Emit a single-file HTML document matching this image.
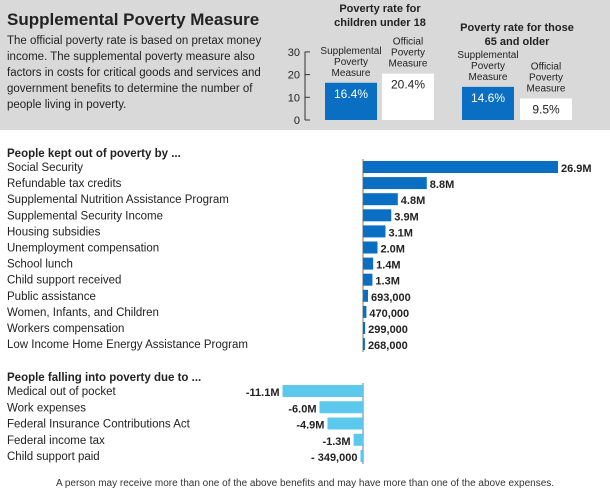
<!DOCTYPE html>
<html><head><meta charset="utf-8"><style>
body{margin:0;width:610px;height:494px;background:#fff;font-family:"Liberation Sans",sans-serif;position:relative;overflow:hidden}
svg{position:absolute;left:0;top:0}
</style></head><body>
<svg width="610" height="494">
<rect x="0" y="0" width="610" height="130" fill="#d9d9da"/>
<text x="7" y="25" font-size="17" font-weight="bold" fill="#222">Supplemental Poverty Measure</text>
<g font-size="11.5" fill="#222">
<text x="7" y="44">The official poverty rate is based on pretax money</text>
<text x="7" y="60">income. The supplemental poverty measure also</text>
<text x="7" y="76">factors in costs for critical goods and services and</text>
<text x="7" y="92">government benefits to determine the number of</text>
<text x="7" y="108">people living in poverty.</text>
</g>
<g id="topChart"></g>
<g id="posChart"></g>
<g id="negChart"></g>
<text x="305" y="486" font-size="10" fill="#333" text-anchor="middle">A person may receive more than one of the above benefits and may have more than one of the above expenses.</text>
</svg>
<script>
const rateValues=[16.4,20.4,14.6,9.5];
const rateLabels=["16.4%","20.4%","14.6%","9.5%"];
const rateTicks=[0,10,20,30];
const posCategories=["Social Security","Refundable tax credits","Supplemental Nutrition Assistance Program","Supplemental Security Income","Housing subsidies","Unemployment compensation","School lunch","Child support received","Public assistance","Women, Infants, and Children","Workers compensation","Low Income Home Energy Assistance Program"];
const posValues=[26.9,8.8,4.8,3.9,3.1,2.0,1.4,1.3,0.693,0.470,0.299,0.268];
const posLabels=["26.9M","8.8M","4.8M","3.9M","3.1M","2.0M","1.4M","1.3M","693,000","470,000","299,000","268,000"];
const negCategories=["Medical out of pocket","Work expenses","Federal Insurance Contributions Act","Federal income tax","Child support paid"];
const negValues=[-11.1,-6.0,-4.9,-1.3,-0.349];
const negLabels=["-11.1M","-6.0M","-4.9M","-1.3M","- 349,000"];
const NS="http://www.w3.org/2000/svg";
function mk(p,t,a,txt){const e=document.createElementNS(NS,t);for(const k in a)e.setAttribute(k,a[k]);if(txt!==undefined)e.textContent=txt;p.appendChild(e);return e;}
const gTop=document.getElementById('topChart');
const yR=v=>120-v*2.27;
mk(gTop,'line',{x1:305,y1:yR(0),x2:305,y2:yR(30),stroke:'#333','stroke-width':1});
rateTicks.forEach(t=>{mk(gTop,'line',{x1:305,y1:yR(t),x2:310,y2:yR(t),stroke:'#333'});
const l=mk(gTop,'text',{x:300,y:yR(t)+4,'font-size':11,'text-anchor':'end',fill:'#222'},t);

});
const bx=[325,382,462,520];
rateValues.forEach((v,i)=>{const spm=i%2===0;
const r=mk(gTop,'rect',{x:bx[i],y:yR(v),width:52,height:yR(0)-yR(v),fill:spm?'#0a6fc2':'#fff'});


const t=mk(gTop,'text',{x:bx[i]+26,y:yR(v)+15,'font-size':12,'text-anchor':'middle',fill:spm?'#fff':'#222'},rateLabels[i]);


const lines=spm?["Supplemental","Poverty","Measure"]:["Official","Poverty","Measure"];
lines.forEach((s,j)=>{const q=mk(gTop,'text',{x:bx[i]+26,y:yR(v)-29+j*11,'font-size':10,'text-anchor':'middle',fill:'#222'},s);

});});
[["Poverty rate for","children under 18",380,12],["Poverty rate for those","65 and older",517,31]].forEach(h=>{
mk(gTop,'text',{x:h[2],y:h[3],'font-size':11,'font-weight':'bold','text-anchor':'middle',fill:'#222'},h[0]);
mk(gTop,'text',{x:h[2],y:h[3]+14,'font-size':11,'font-weight':'bold','text-anchor':'middle',fill:'#222'},h[1]);});
const AX=363,SC=7.25;
const gPos=document.getElementById('posChart');
mk(gPos,'text',{x:7,y:157,'font-size':11.5,'font-weight':'bold',fill:'#222'},"People kept out of poverty by ...");
mk(gPos,'line',{x1:AX,y1:159,x2:AX,y2:352,stroke:'#777'});
posValues.forEach((v,i)=>{const cy=167+i*16.1;
const c=mk(gPos,'text',{x:7,y:cy+4,'font-size':11.5,fill:'#222'},posCategories[i]);


const r=mk(gPos,'rect',{x:AX,y:cy-6,width:v*SC,height:12,fill:'#0a6fc2'});


const t=mk(gPos,'text',{x:AX+v*SC+3,y:cy+5,'font-size':11,'font-weight':'bold',fill:'#222'},posLabels[i]);

});
const gNeg=document.getElementById('negChart');
mk(gNeg,'text',{x:7,y:381,'font-size':11.5,'font-weight':'bold',fill:'#222'},"People falling into poverty due to ...");
mk(gNeg,'line',{x1:AX,y1:383,x2:AX,y2:464,stroke:'#777'});
negValues.forEach((v,i)=>{const cy=391+i*16.25;
const c=mk(gNeg,'text',{x:7,y:cy+4,'font-size':11.5,fill:'#222'},negCategories[i]);


const w=-v*SC;
const r=mk(gNeg,'rect',{x:AX-w,y:cy-6,width:w,height:12,fill:'#5bc8ec'});


const t=mk(gNeg,'text',{x:AX-w-3,y:cy+5,'font-size':11,'font-weight':'bold','text-anchor':'end',fill:'#222'},negLabels[i]);

});
</script>
</body></html>
